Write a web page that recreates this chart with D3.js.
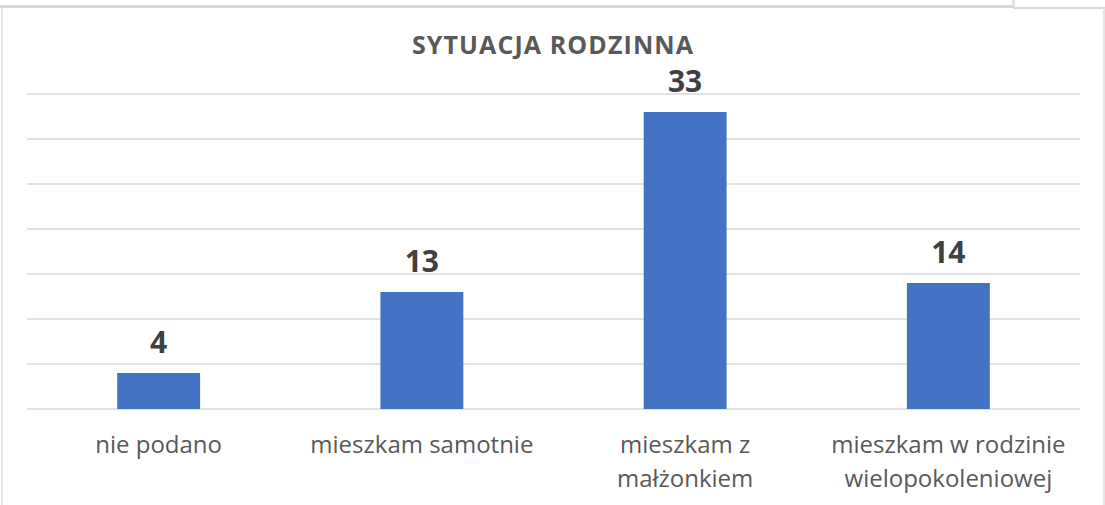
<!DOCTYPE html>
<html>
<head>
<meta charset="utf-8">
<script src="https://cdn.jsdelivr.net/npm/d3@7"></script>
<style>
  body { margin: 0; background: #fff; }
  svg { display: block; font-family: "Open Sans", "Liberation Sans", sans-serif; }
</style>
</head>
<body>
<svg id="chart" width="1105" height="505"></svg>
<script>
// chart data
const categories = [["nie podano"], ["mieszkam samotnie"], ["mieszkam z", "małżonkiem"], ["mieszkam w rodzinie", "wielopokoleniowej"]];
const values = [4, 13, 33, 14];
const yTicks = [0, 5, 10, 15, 20, 25, 30, 35];
const title = "SYTUACJA RODZINNA";

const svg = d3.select("#chart");

// window frame bits from the screenshot
svg.append("rect").attr("x", 0).attr("y", 0).attr("width", 1105).attr("height", 505).attr("fill", "#fff");
svg.append("line").style("stroke", "#d9d9d9").style("stroke-width", 3)
    .attr("x1", 0).attr("y1", 6.5).attr("x2", 1013).attr("y2", 6.5);
svg.append("line").style("stroke", "#d9d9d9").style("stroke-width", 2)
    .attr("x1", 1013).attr("y1", 8).attr("x2", 1105).attr("y2", 8);
svg.append("line").style("stroke", "#d9d9d9").style("stroke-width", 2)
    .attr("x1", 1013.5).attr("y1", 0).attr("x2", 1013.5).attr("y2", 7);
svg.append("line").style("stroke", "#e6e6e6").style("stroke-width", 2)
    .attr("x1", 2).attr("y1", 8).attr("x2", 2).attr("y2", 505);
svg.append("line").style("stroke", "#e6e6e6").style("stroke-width", 2)
    .attr("x1", 1104).attr("y1", 8).attr("x2", 1104).attr("y2", 505);

const plotLeft = 27, plotRight = 1080, plotTop = 94, plotBottom = 409;

const x = d3.scaleBand()
    .domain(d3.range(values.length))
    .range([plotLeft, plotRight])
    .paddingInner(0.685)
    .paddingOuter(0.3425);

const y = d3.scaleLinear()
    .domain([0, 35])
    .range([plotBottom, plotTop]);

// gridlines
svg.append("g")
    .selectAll("line")
    .data(yTicks)
    .enter()
    .append("line")
    .style("stroke", "#d9d9d9")
    .style("stroke-width", 1.5)
    .attr("x1", plotLeft)
    .attr("x2", plotRight)
    .attr("y1", d => y(d))
    .attr("y2", d => y(d));

// bars
svg.append("g")
    .selectAll("rect")
    .data(values)
    .enter()
    .append("rect")
    .attr("x", (d, i) => x(i))
    .attr("y", d => y(d))
    .attr("width", x.bandwidth())
    .attr("height", d => y(0) - y(d))
    .attr("fill", "#4472c4");

// value labels
svg.append("g")
    .selectAll("text")
    .data(values)
    .enter()
    .append("text")
    .attr("x", (d, i) => x(i) + x.bandwidth() / 2)
    .attr("y", d => y(d) - 20)
    .attr("text-anchor", "middle")
    .style("font-size", "30px")
    .style("font-weight", "bold")
    .style("fill", "#404040")
    .text(d => d);

// category labels
const cat = svg.append("g")
    .selectAll("text")
    .data(categories)
    .enter()
    .append("text")
    .attr("x", (d, i) => x(i) + x.bandwidth() / 2)
    .attr("y", 453)
    .attr("text-anchor", "middle")
    .style("font-size", "24px")
    .style("fill", "#595959");
cat.selectAll("tspan")
    .data(d => d)
    .enter()
    .append("tspan")
    .attr("x", function () { return d3.select(this.parentNode).attr("x"); })
    .attr("dy", (d, i) => i === 0 ? 0 : 34)
    .text(d => d);

// title
svg.append("text")
    .attr("x", 553)
    .attr("y", 54)
    .attr("text-anchor", "middle")
    .style("font-size", "25px")
    .style("font-weight", "bold")
    .style("letter-spacing", "1.1px")
    .style("fill", "#595959")
    .text(title);
</script>
</body>
</html>
